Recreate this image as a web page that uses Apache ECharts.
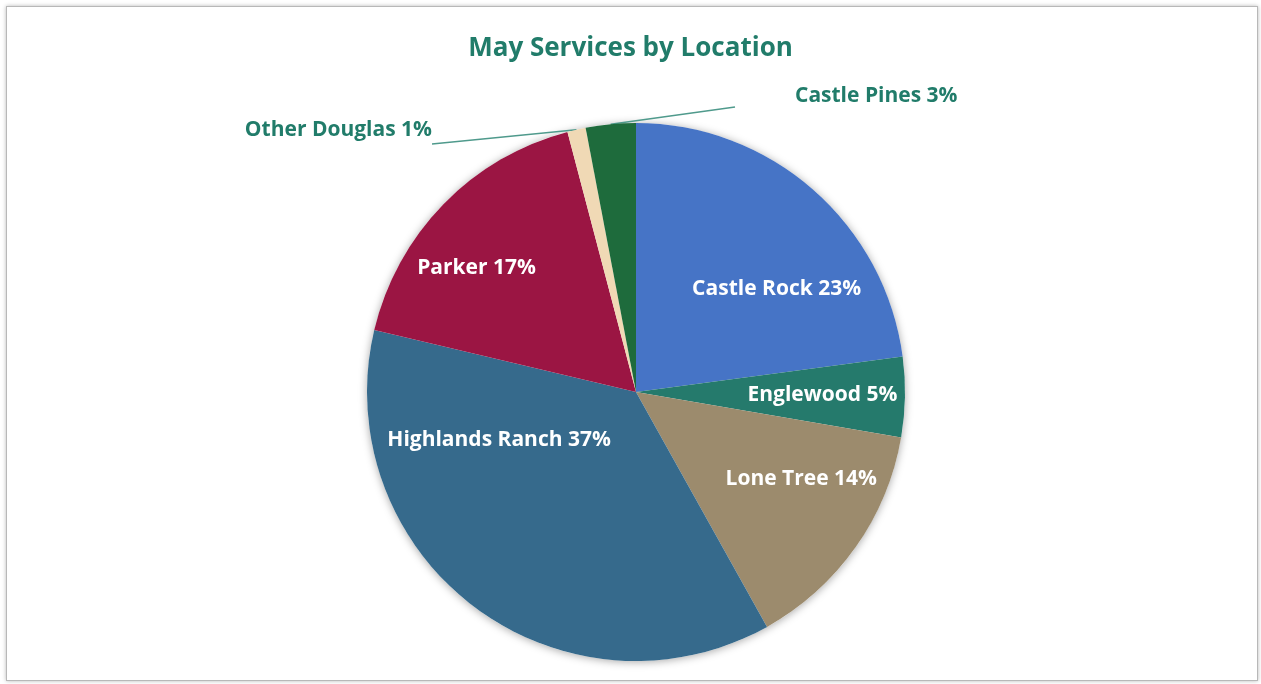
<!DOCTYPE html>
<html>
<head>
<meta charset="utf-8">
<script src="https://cdn.jsdelivr.net/npm/echarts@6/dist/echarts.min.js"></script>
<style>
  html, body { margin: 0; padding: 0; background: #ffffff; }
  #frame { position: absolute; left: 6px; top: 6px; width: 1250px; height: 673px;
           border: 1.5px solid #b8b8b8; box-shadow: 0 0 4px rgba(0,0,0,0.28); background: #fff; }
  #chart { position: absolute; left: 0; top: 0; width: 1261px; height: 684px; }
</style>
</head>
<body>
<div id="frame"></div>
<div id="chart"></div>
<script>
// ---- data ----
const categories = ['Castle Rock', 'Englewood', 'Lone Tree', 'Highlands Ranch', 'Parker', 'Other Douglas', 'Castle Pines'];
const values = [22.9, 4.8, 14.2, 36.8, 17.2, 1.1, 3.0];
const colors = ['#4674C6', '#257A6C', '#9C8B6D', '#366A8C', '#9B1543', '#F0D9B5', '#1E6B3C'];
const outsideLabels = ['Other Douglas', 'Castle Pines'];

// ---- label placement (styling only) ----
const labelAdjust = [
  { dx: 50, dy: 0 },
  { dx: 49, dy: 0 },
  { dx: 53, dy: 8 },
  { dx: -54, dy: -62 },
  { dx: -61, dy: -28 },
  { x: 432, y: 144, align: 'right', verticalAlign: 'middle' },
  { x: 735, y: 107, align: 'left', verticalAlign: 'middle' }
];
// spacer below the text (moves leader-line anchor) and left padding
const outsideSpacer = { 'Other Douglas': 28, 'Castle Pines': 22 };
const outsidePadLeft = { 'Other Douglas': 0, 'Castle Pines': 60 };

const teal = '#217C6A';
const fontFam = '"Open Sans", Lato, sans-serif';
const fmtText = p => p.name + ' ' + Math.round(p.percent) + '%';

const pieData = categories.map((name, i) => {
  const item = { name: name, value: values[i], itemStyle: { color: colors[i] } };
  if (outsideLabels.indexOf(name) >= 0) {
    item.label = {
      position: 'outside',
      color: teal,
      fontSize: 21,
      padding: [0, 0, 0, outsidePadLeft[name]],
      backgroundColor: 'rgba(255,255,255,0)',
      formatter: p => '{t|' + fmtText(p) + '}\n{s|}',
      rich: {
        t: { color: teal, fontSize: 21, fontWeight: 'bold', fontFamily: fontFam, height: 28, lineHeight: 28 },
        s: { height: outsideSpacer[name], lineHeight: outsideSpacer[name], fontSize: 1 }
      }
    };
    item.labelLine = { show: true, length: 10, length2: 0, smooth: false,
                       lineStyle: { color: '#4F9A8C', width: 1.5 } };
  }
  return item;
});

const chart = echarts.init(document.getElementById('chart'), null, { renderer: 'canvas' });
chart.setOption({
  backgroundColor: 'transparent',
  animation: false,
  title: {
    text: 'May Services by Location',
    left: 'center',
    top: 31,
    textStyle: { color: teal, fontFamily: fontFam, fontWeight: 'bold', fontSize: 26 }
  },
  series: [
    {
      type: 'pie',
      silent: true,
      center: [636, 392],
      radius: [0, 269],
      z: 1,
      label: { show: false },
      labelLine: { show: false },
      itemStyle: { color: '#ffffff', shadowBlur: 8, shadowColor: 'rgba(0,0,0,0.35)', shadowOffsetY: 1 },
      data: [{ value: 1, name: '' }]
    },
    {
      type: 'pie',
      center: [636, 392],
      radius: [0, 269],
      startAngle: 90,
      clockwise: true,
      z: 2,
      avoidLabelOverlap: false,
      itemStyle: { borderWidth: 0 },
      label: {
        show: true,
        position: 'inside',
        color: '#ffffff',
        fontFamily: fontFam,
        fontWeight: 'bold',
        fontSize: 21,
        textBorderWidth: 0,
        textShadowBlur: 0,
        formatter: fmtText
      },
      labelLine: { show: false },
      labelLayout: p => labelAdjust[p.dataIndex],
      emphasis: { disabled: true },
      data: pieData
    }
  ]
});
</script>
</body>
</html>
